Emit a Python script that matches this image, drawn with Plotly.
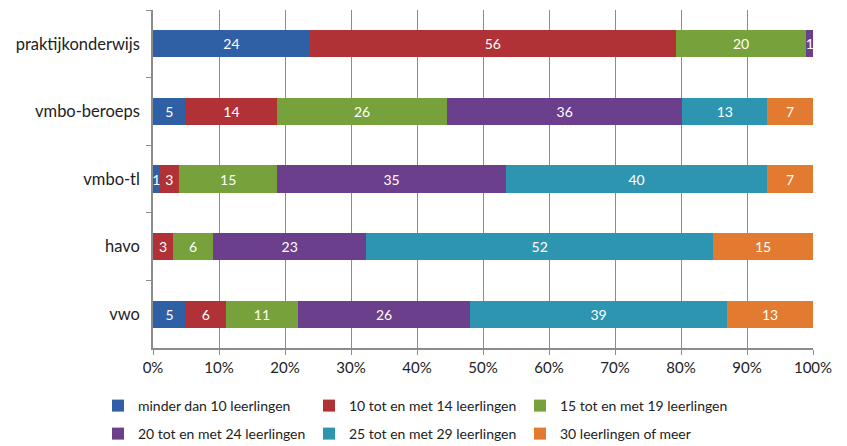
import plotly.graph_objects as go

categories = ["praktijkonderwijs", "vmbo-beroeps", "vmbo-tl", "havo", "vwo"]
series_names = [
    "minder dan 10 leerlingen",
    "10 tot en met 14 leerlingen",
    "15 tot en met 19 leerlingen",
    "20 tot en met 24 leerlingen",
    "25 tot en met 29 leerlingen",
    "30 leerlingen of meer",
]
minder_10 = [24, 5, 1, 0, 5]
tot_14 = [56, 14, 3, 3, 6]
tot_19 = [20, 26, 15, 6, 11]
tot_24 = [1, 36, 35, 23, 26]
tot_29 = [0, 13, 40, 52, 39]
meer_30 = [0, 7, 7, 15, 13]
tick_vals = [0, 10, 20, 30, 40, 50, 60, 70, 80, 90, 100]
tick_text = ["0%", "10%", "20%", "30%", "40%", "50%", "60%", "70%", "80%", "90%", "100%"]

colors = ["#2F5FA5", "#B03236", "#77A13A", "#6B3F8C", "#2E95B0", "#E27A30"]
all_series = [minder_10, tot_14, tot_19, tot_24, tot_29, meer_30]
legend_ids = ["legend", "legend", "legend", "legend2", "legend2", "legend2"]

FONT = "Lato"
fig = go.Figure()
for name, vals, col, lg in zip(series_names, all_series, colors, legend_ids):
    fig.add_trace(go.Bar(
        y=categories, x=vals, name=name, orientation="h",
        marker=dict(color=col, line=dict(width=0)),
        text=[str(v) if v > 0 else "" for v in vals],
        textposition="inside", insidetextanchor="middle",
        textfont=dict(color="white", size=14, family=FONT),
        constraintext="none", legend=lg,
    ))

legend_common = dict(
    orientation="h", xref="container", yref="container",
    x=98 / 847, xanchor="left", yanchor="middle",
    font=dict(size=14, family=FONT, color="#222222"),
    entrywidth=166, itemwidth=30, traceorder="normal",
    bgcolor="rgba(0,0,0,0)",
)

fig.update_layout(
    barmode="stack", barnorm="percent", bargap=0.6,
    width=847, height=446,
    margin=dict(l=153, r=34, t=10, b=98, autoexpand=False),
    plot_bgcolor="white", paper_bgcolor="white",
    font=dict(family=FONT, size=14, color="#222222"),
    uniformtext=dict(minsize=8, mode="show"),
    xaxis=dict(
        range=[0, 100], tickvals=tick_vals, ticktext=tick_text,
        showgrid=True, gridcolor="#8C8C8C", gridwidth=1,
        showline=True, linecolor="#8C8C8C", linewidth=1.5,
        ticks="outside", ticklen=5, tickcolor="#8C8C8C",
        tickfont=dict(size=15, family=FONT, color="#222222"),
        zeroline=False, automargin=False,
    ),
    yaxis=dict(
        categoryorder="array", categoryarray=categories, autorange="reversed",
        showline=True, linecolor="#8C8C8C", linewidth=1.5,
        ticks="outside", ticklen=5, tickcolor="#8C8C8C", tickson="boundaries",
        tickfont=dict(size=16.5, family=FONT, color="#222222"),
        ticklabelstandoff=8, automargin=False,
    ),
    legend=dict(y=(446 - 406) / 446, **legend_common),
    legend2=dict(y=(446 - 434) / 446, **legend_common),
    showlegend=True,
)

fig.write_html(
    "out.html",
    config={"displayModeBar": False},
    post_script="document.body.style.margin='0px';",
)
